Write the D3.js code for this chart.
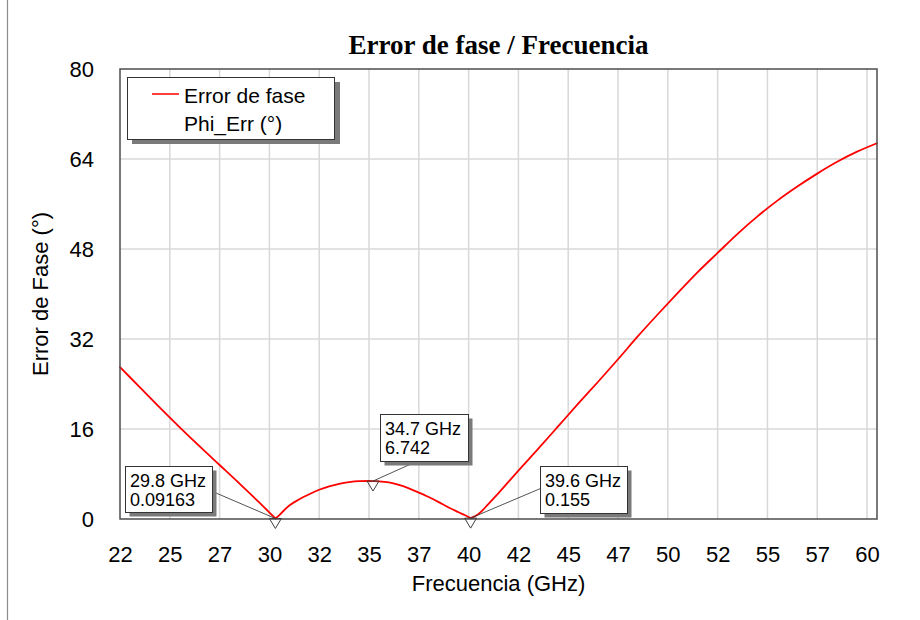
<!DOCTYPE html>
<html>
<head>
<meta charset="utf-8">
<script src="https://cdn.jsdelivr.net/npm/d3@7/dist/d3.min.js"></script>
<style>
  body { margin: 0; background: #ffffff; }
  svg { display: block; }
</style>
</head>
<body>
<svg id="chart" width="920" height="620"></svg>
<script>
// Phase error versus frequency (GHz, degrees)
const freqGHz = [
  22, 23, 24, 25, 26, 27, 28, 29, 29.8,
  30.0, 30.25, 30.5, 31, 31.5, 32, 32.5, 33, 33.5, 34, 34.5, 34.7,
  35, 35.5, 36, 36.5, 37, 37.5, 38, 38.5, 39, 39.3, 39.6,
  40, 40.5, 41, 41.5, 42, 43, 44, 45, 46, 47, 48, 49, 50,
  51, 52, 53, 54, 55, 56, 57, 58, 59, 60
];
const phaseErr = [
  27.0, 23.4, 19.8, 16.3, 12.9, 9.6, 6.3, 2.9, 0.09163,
  0.7, 1.6, 2.4, 3.5, 4.4, 5.2, 5.8, 6.25, 6.55, 6.72, 6.76, 6.742,
  6.7, 6.5, 6.05, 5.45, 4.7, 3.9, 3.0, 2.05, 1.2, 0.7, 0.155,
  0.9, 2.7, 4.6, 6.6, 8.6, 12.5, 16.5, 20.5, 24.4, 28.4, 32.5, 36.4, 40.2,
  43.9, 47.3, 50.7, 53.8, 56.6, 59.1, 61.4, 63.5, 65.3, 66.8
];

const xTickValues = [22, 24.5, 27, 29.5, 32, 34.5, 37, 39.5, 42, 44.5, 47, 49.5, 52, 54.5, 57, 59.5];
const xTickLabels = ["22", "25", "27", "30", "32", "35", "37", "40", "42", "45", "47", "50", "52", "55", "57", "60"];
const yTickValues = [0, 16, 32, 48, 64, 80];

// Markers placed on the curve
const markerFreq = [29.8, 34.7, 39.6];
const markerValue = [0.09163, 6.742, 0.155];
const markerLines = [["29.8 GHz", "0.09163"], ["34.7 GHz", "6.742"], ["39.6 GHz", "0.155"]];

const svg = d3.select("#chart");
const W = 920, H = 620;
const plot = { left: 120, right: 877, top: 69, bottom: 519 };

const x = d3.scaleLinear().domain([22, 60]).range([plot.left, plot.right]);
const y = d3.scaleLinear().domain([0, 80]).range([plot.bottom, plot.top]);

const sans = "'Liberation Sans', Arial, Helvetica, sans-serif";
const serif = "'Liberation Serif', 'Times New Roman', serif";

// Page background and the thin line on the left edge
svg.append("rect").attr("width", W).attr("height", H).attr("fill", "#ffffff");
svg.append("line").attr("x1", 7.5).attr("x2", 7.5).attr("y1", 0).attr("y2", H)
  .attr("stroke", "#8c8c8c").attr("stroke-width", 1.2);

// Title
svg.append("text")
  .attr("x", (plot.left + plot.right) / 2).attr("y", 54)
  .attr("text-anchor", "middle")
  .attr("font-family", serif).attr("font-weight", "bold").attr("font-size", 27)
  .attr("fill", "#000").text("Error de fase / Frecuencia");

// Grid
const grid = svg.append("g");
grid.selectAll("line.v").data(xTickValues.filter(v => v > 22 && v < 60)).enter()
  .append("line")
  .attr("x1", d => x(d)).attr("x2", d => x(d))
  .attr("y1", plot.top).attr("y2", plot.bottom)
  .attr("stroke", "#d8d8d8").attr("stroke-width", 1.5);
grid.selectAll("line.h").data(yTickValues.filter(v => v > 0 && v < 80)).enter()
  .append("line")
  .attr("x1", plot.left).attr("x2", plot.right)
  .attr("y1", d => y(d)).attr("y2", d => y(d))
  .attr("stroke", "#d8d8d8").attr("stroke-width", 1.5);

// Axes (labels only, no tick marks or domain path)
const xAxis = d3.axisBottom(x)
  .tickValues(xTickValues)
  .tickFormat((d, i) => xTickLabels[i])
  .tickSize(0).tickPadding(27);
const gx = svg.append("g").attr("transform", `translate(0,${plot.bottom})`).call(xAxis);
gx.select(".domain").remove();
gx.selectAll("text").attr("font-family", sans).attr("font-size", 22).attr("fill", "#000");

const yAxis = d3.axisLeft(y)
  .tickValues(yTickValues)
  .tickFormat(d3.format("d"))
  .tickSize(0).tickPadding(26);
const gy = svg.append("g").attr("transform", `translate(${plot.left},0)`).call(yAxis);
gy.select(".domain").remove();
gy.selectAll("text").attr("font-family", sans).attr("font-size", 22).attr("fill", "#000");

// Axis titles
svg.append("text")
  .attr("x", (plot.left + plot.right) / 2).attr("y", 591)
  .attr("text-anchor", "middle")
  .attr("font-family", sans).attr("font-size", 22).attr("fill", "#000")
  .text("Frecuencia (GHz)");
svg.append("text")
  .attr("transform", `translate(48,${(plot.top + plot.bottom) / 2}) rotate(-90)`)
  .attr("text-anchor", "middle")
  .attr("font-family", sans).attr("font-size", 22).attr("fill", "#000")
  .text("Error de Fase (°)");

// Curve: smooth between the minima, with sharp corners at the minima themselves
const series = freqGHz.map((f, i) => ({ f, v: phaseErr[i] }));
const breaks = [22, 29.8, 39.6, 60];
const line = d3.line().x(d => x(d.f)).y(d => y(d.v)).curve(d3.curveMonotoneX);
const curveG = svg.append("g");
for (let k = 0; k < breaks.length - 1; k++) {
  const seg = series.filter(d => d.f >= breaks[k] && d.f <= breaks[k + 1]);
  curveG.append("path").datum(seg)
    .attr("d", line)
    .attr("fill", "none").attr("stroke", "#ff0000").attr("stroke-width", 1.8)
    .attr("stroke-linejoin", "round").attr("stroke-linecap", "round");
}

// Plot frame
svg.append("rect")
  .attr("x", plot.left).attr("y", plot.top)
  .attr("width", plot.right - plot.left).attr("height", plot.bottom - plot.top)
  .attr("fill", "none").attr("stroke", "#4d4d4d").attr("stroke-width", 1.5);

// Legend
const lg = svg.append("g");
lg.append("rect").attr("x", 132).attr("y", 82).attr("width", 208).attr("height", 62).attr("fill", "#7a7a7a");
lg.append("rect").attr("x", 127.5).attr("y", 77.5).attr("width", 207).attr("height", 62)
  .attr("fill", "#ffffff").attr("stroke", "#333").attr("stroke-width", 1);
lg.append("line").attr("x1", 152).attr("x2", 179).attr("y1", 94).attr("y2", 94)
  .attr("stroke", "#ff0000").attr("stroke-width", 1.5);
lg.append("text").attr("x", 184).attr("y", 103)
  .attr("font-family", sans).attr("font-size", 21).attr("fill", "#000").text("Error de fase");
lg.append("text").attr("x", 184).attr("y", 131)
  .attr("font-family", sans).attr("font-size", 21).attr("fill", "#000").text("Phi_Err (°)");

// Marker annotations: box offset from the marker point, box size, leader anchor on the box
const boxLayout = [
  { dx: -150.5, dy: -52, w: 87, h: 46, ax: 87, ay: 25 },
  { dx: 7, dy: -67, w: 88, h: 47, ax: 36, ay: 47 },
  { dx: 69.5, dy: -52.5, w: 87, h: 47, ax: 0, ay: 22 }
];

const ann = svg.append("g");
markerFreq.forEach((f, i) => {
  const mx = x(f), my = y(markerValue[i]);
  const b = boxLayout[i];
  const bx = Math.round(mx + b.dx) + 0.5, by = Math.round(my + b.dy) + 0.5;

  // leader line
  ann.append("line")
    .attr("x1", bx + b.ax).attr("y1", by + b.ay)
    .attr("x2", mx).attr("y2", my)
    .attr("stroke", "#404040").attr("stroke-width", 0.9);

  // hollow downward triangle sitting on the point
  const tw = 12, th = 10;
  ann.append("path")
    .attr("d", `M${mx - tw / 2},${my} L${mx + tw / 2},${my} L${mx},${my + th} Z`)
    .attr("fill", "none").attr("stroke", "#404040").attr("stroke-width", 1);

  // box with shadow
  ann.append("rect").attr("x", bx + 4).attr("y", by + 4).attr("width", b.w).attr("height", b.h)
    .attr("fill", "#7a7a7a");
  ann.append("rect").attr("x", bx).attr("y", by).attr("width", b.w).attr("height", b.h)
    .attr("fill", "#ffffff").attr("stroke", "#333").attr("stroke-width", 1);
  markerLines[i].forEach((t, j) => {
    ann.append("text")
      .attr("x", bx + 4.5).attr("y", by + 20 + j * 19.5)
      .attr("font-family", sans).attr("font-size", 18).attr("fill", "#000")
      .text(t);
  });
});
</script>
</body>
</html>
